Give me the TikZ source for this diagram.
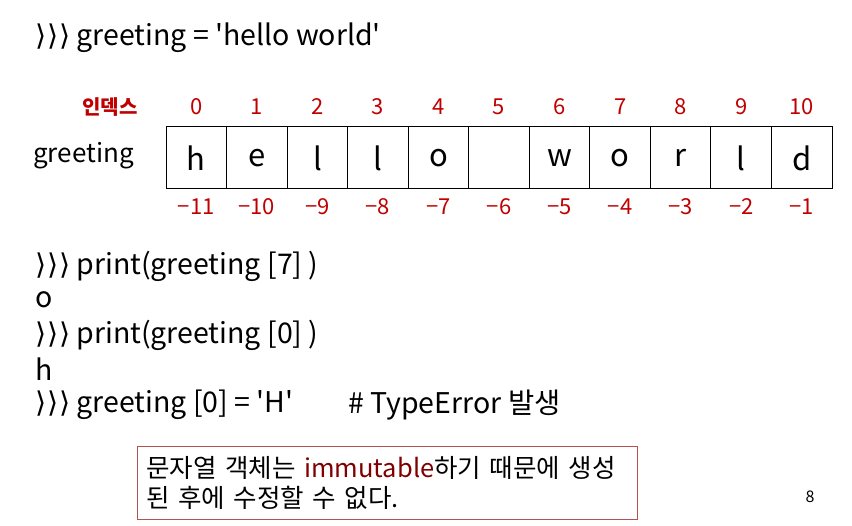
\documentclass[tikz,border=0pt]{standalone}
\usepackage{fontspec}
\setmainfont{Noto Sans CJK KR}[Ligatures=TeXOff]
\newfontfamily\symfont{DejaVu Sans}
\usepackage{xcolor}
\definecolor{idxred}{RGB}{192,0,0}
\definecolor{darkred}{RGB}{128,0,0}
\definecolor{boxline}{RGB}{185,80,80}
\newcommand{\prompt}{{\symfont\char"27E9\kern1pt\char"27E9\kern1pt\char"27E9\relax}\kern6pt}
\newcommand{\mn}{{\char"2212\relax}}
\tikzstyle{cell} = [rectangle, draw, line width=1pt, minimum width=60.55pt,
  minimum height=62pt, inner sep=0pt, font=\fontsize{31}{31}\selectfont]
\tikzstyle{idx} = [text=idxred, inner sep=0pt, font=\fontsize{22}{22}\selectfont]
\tikzstyle{code} = [anchor=west, inner sep=0pt, font=\fontsize{28.5}{28.5}\selectfont]

\begin{document}
\begin{tikzpicture}[x=1pt, y=-1pt]
  \useasboundingbox (0,0) rectangle (852,526);
  \node[code] (l1) at (35, 38) {\prompt greeting = 'hello world'};

  \node[idx, font=\bfseries\fontsize{20}{20}\selectfont] (lbl) at (110, 107) {인덱스};
  \node[anchor=west, inner sep=0pt, font=\fontsize{26}{26}\selectfont] (name) at (33, 156) {greeting};
  \foreach \ch [count=\i from 0] in {h,e,l,l,o,{},w,o,r,l,d} {
    \pgfmathtruncatemacro{\n}{11-\i}
    \node[cell] (c\i) at (196.3+60.55*\i, 158) {\ch};
    \node[idx] (p\i) at (196.3+60.55*\i, 107) {\i};
    \node[idx] (m\i) at (196.3+60.55*\i, 207) {\mn\n};
  }

  \node[code] (l2) at (35, 266) {\prompt print(greeting [7] )};
  \node[code] (l3) at (35, 300) {o};
  \node[code] (l4) at (35, 335) {\prompt print(greeting [0] )};
  \node[code] (l5) at (35, 369) {h};
  \node[code] (l6) at (35, 405) {\prompt greeting [0] = 'H'};
  \node[code] (err) at (348, 405) {\# TypeError 발생};

  \node[draw=boxline, line width=1pt, anchor=north west, minimum width=500pt,
    minimum height=73pt, inner sep=9pt, align=left, text width=482pt,
    font=\fontsize{25.5}{30}\selectfont] (note) at (137, 446)
    {문자열 객체는 \textcolor{darkred}{immutable}하기 때문에 생성\\된 후에 수정할 수 없다.};
  \node[inner sep=0pt, font=\fontsize{16}{16}\selectfont] (page) at (810, 497) {8};
\end{tikzpicture}
\end{document}
